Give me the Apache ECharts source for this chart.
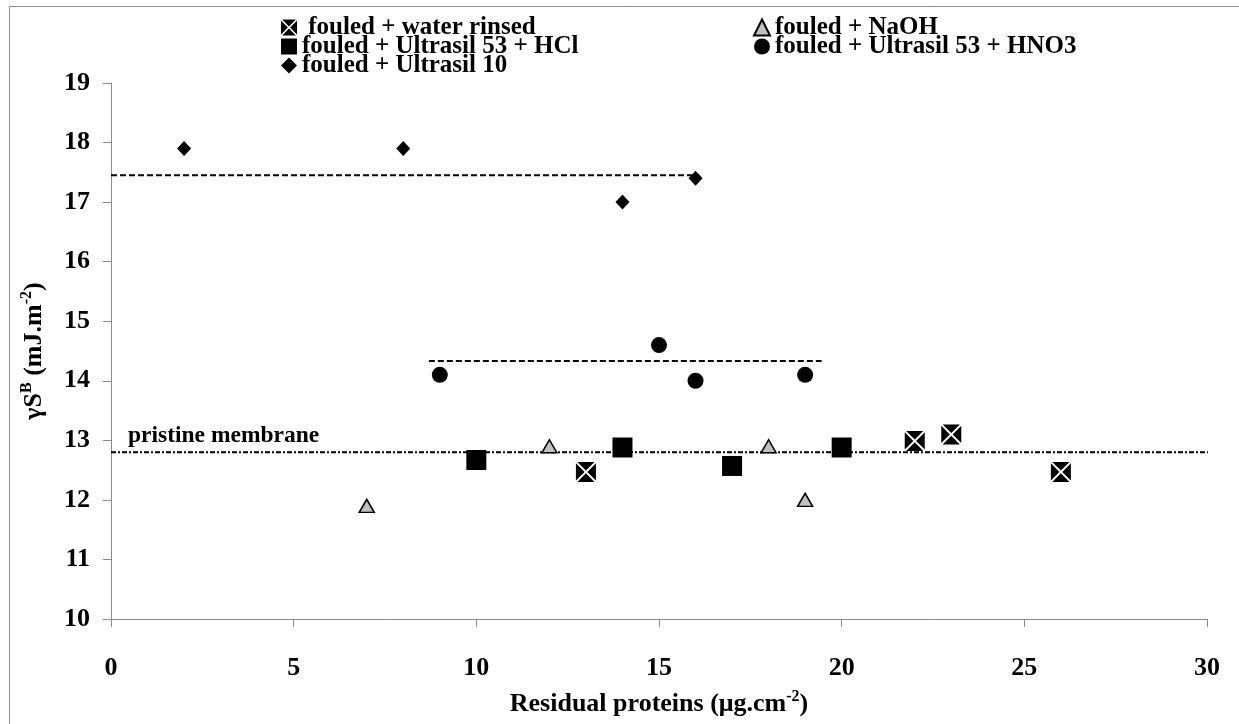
<!DOCTYPE html>
<html>
<head>
<meta charset="utf-8">
<script src="https://cdn.jsdelivr.net/npm/echarts@6/dist/echarts.min.js"></script>
<style>
html, body { margin: 0; padding: 0; background: #fff; }
#main { width: 1239px; height: 724px; }
</style>
</head>
<body>
<div id="main"></div>
<script>
// data
var waterX = [13, 22, 23, 26];
var waterY = [12.47, 12.99, 13.1, 12.47];
var naohX = [7, 12, 18, 19];
var naohY = [11.9, 12.9, 12.9, 12.0];
var hclX = [10, 14, 17, 20];
var hclY = [12.67, 12.88, 12.57, 12.88];
var hno3X = [9, 15, 16, 19];
var hno3Y = [14.1, 14.6, 14.0, 14.1];
var u10X = [2, 8, 14, 16];
var u10Y = [17.9, 17.9, 17.0, 17.4];

// average lines (x start/end, y level)
var u10MeanX = [0, 16.1];
var u10MeanY = 17.45;
var hno3MeanX = [8.7, 19.45];
var hno3MeanY = 14.33;
var pristineX = [0, 30.7];
var pristineY = 12.8;

var xTicks = { min: 0, max: 30, interval: 5 };
var yTicks = { min: 10, max: 19, interval: 1 };

var names = ['fouled + water rinsed', 'fouled + NaOH', 'fouled + Ultrasil 53 + HCl',
             'fouled + Ultrasil 53 + HNO3', 'fouled + Ultrasil 10'];

function pts(xs, ys) {
    return xs.map(function (x, i) { return [x, ys[i]]; });
}
function flat(xs, y) {
    return xs.map(function (x) { return [x, y]; });
}

var FONT = "'Liberation Serif', 'Times New Roman', serif";
var AXIS_GREY = '#8c8c8c';

// black box with white cross
var crossBox = 'path://M1.4 0L18.6 0L10 8.6Z M20 1.4L20 18.6L11.4 10Z M18.6 20L1.4 20L10 11.4Z M0 18.6L0 1.4L8.6 10Z';

var myChart = echarts.init(document.getElementById('main'));

var legendText = {
    fontFamily: FONT,
    fontWeight: 'bold',
    fontSize: 25,
    color: '#000'
};

var richTitle = {
    n: { fontFamily: FONT, fontWeight: 'bold', fontSize: 26, color: '#000', lineHeight: 30 },
    sup: { fontFamily: FONT, fontWeight: 'bold', fontSize: 16, color: '#000', lineHeight: 16, verticalAlign: 'top' }
};

var option = {
    backgroundColor: '#fff',
    animation: false,
    graphic: [{
        type: 'rect',
        shape: { x: 9.5, y: 6.5, width: 1300, height: 800 },
        style: { fill: 'none', stroke: '#8c8c8c', lineWidth: 1 },
        silent: true
    }],
    legend: [{
        orient: 'vertical',
        left: 276,
        top: 10,
        itemGap: -6,
        itemWidth: 16,
        itemHeight: 16,
        data: [names[0], names[2], names[4]],
        formatter: function (n) { return n === names[0] ? ' ' + n : n; },
        textStyle: legendText
    }, {
        orient: 'vertical',
        left: 748,
        top: 10,
        itemGap: -6,
        itemWidth: 16,
        itemHeight: 16,
        data: [names[1], names[3]],
        textStyle: legendText
    }],
    grid: { left: 111, right: 32, top: 83, bottom: 105 },
    xAxis: {
        type: 'value',
        min: xTicks.min,
        max: xTicks.max,
        interval: xTicks.interval,
        name: '{n|Residual proteins (μg.cm}{sup|-2}{n|)}',
        nameLocation: 'middle',
        nameGap: 70,
        nameTextStyle: { rich: richTitle },
        splitLine: { show: false },
        axisLine: { lineStyle: { color: AXIS_GREY, width: 1 } },
        axisTick: { length: 8, lineStyle: { color: AXIS_GREY } },
        axisLabel: { margin: 36, fontFamily: FONT, fontWeight: 'bold', fontSize: 26, color: '#000' }
    },
    yAxis: {
        type: 'value',
        min: yTicks.min,
        max: yTicks.max,
        interval: yTicks.interval,
        name: '{n|γS}{sup|B}{n| (mJ.m}{sup|-2}{n|)}',
        nameLocation: 'middle',
        nameRotate: 90,
        nameGap: 62,
        nameTextStyle: { rich: richTitle },
        splitLine: { show: false },
        axisLine: { lineStyle: { color: AXIS_GREY, width: 1 } },
        axisTick: { length: 8, lineStyle: { color: AXIS_GREY } },
        axisLabel: { margin: 21, padding: [7, 0, 0, 0], fontFamily: FONT, fontWeight: 'bold', fontSize: 26, color: '#000' }
    },
    series: [
        {
            type: 'line',
            data: flat(pristineX, pristineY),
            clip: false,
            symbol: 'circle',
            symbolSize: 0,
            showSymbol: true,
            z: 1,
            lineStyle: { color: '#000', width: 2, type: [5, 2, 2, 2] },
            label: {
                show: true,
                position: 'right',
                distance: 0,
                offset: [17, -16],
                formatter: function (p) { return p.dataIndex === 0 ? 'pristine membrane' : ''; },
                fontFamily: FONT,
                fontWeight: 'bold',
                fontSize: 23.5,
                color: '#000'
            }
        },
        {
            type: 'line',
            data: flat(u10MeanX, u10MeanY),
            symbol: 'none',
            z: 1,
            lineStyle: { color: '#000', width: 2, type: [6, 3] }
        },
        {
            type: 'line',
            data: flat(hno3MeanX, hno3MeanY),
            symbol: 'none',
            z: 1,
            lineStyle: { color: '#000', width: 2, type: [6, 3] }
        },
        {
            name: names[0],
            type: 'scatter',
            data: pts(waterX, waterY),
            symbol: crossBox,
            symbolSize: 20,
            z: 3,
            itemStyle: { color: '#000', opacity: 1 }
        },
        {
            name: names[1],
            type: 'scatter',
            data: pts(naohX, naohY),
            symbol: 'triangle',
            symbolSize: [15, 13],
            z: 3,
            itemStyle: { color: '#c0c0c0', borderColor: '#000', borderWidth: 1.5, opacity: 1 }
        },
        {
            name: names[2],
            type: 'scatter',
            data: pts(hclX, hclY),
            symbol: 'rect',
            symbolSize: 20,
            z: 3,
            itemStyle: { color: '#000', opacity: 1 }
        },
        {
            name: names[3],
            type: 'scatter',
            data: pts(hno3X, hno3Y),
            symbol: 'circle',
            symbolSize: 16,
            z: 3,
            itemStyle: { color: '#000', opacity: 1 }
        },
        {
            name: names[4],
            type: 'scatter',
            data: pts(u10X, u10Y),
            symbol: 'diamond',
            symbolSize: [14, 15],
            z: 3,
            itemStyle: { color: '#000', opacity: 1 }
        }
    ]
};

myChart.setOption(option);
</script>
</body>
</html>
